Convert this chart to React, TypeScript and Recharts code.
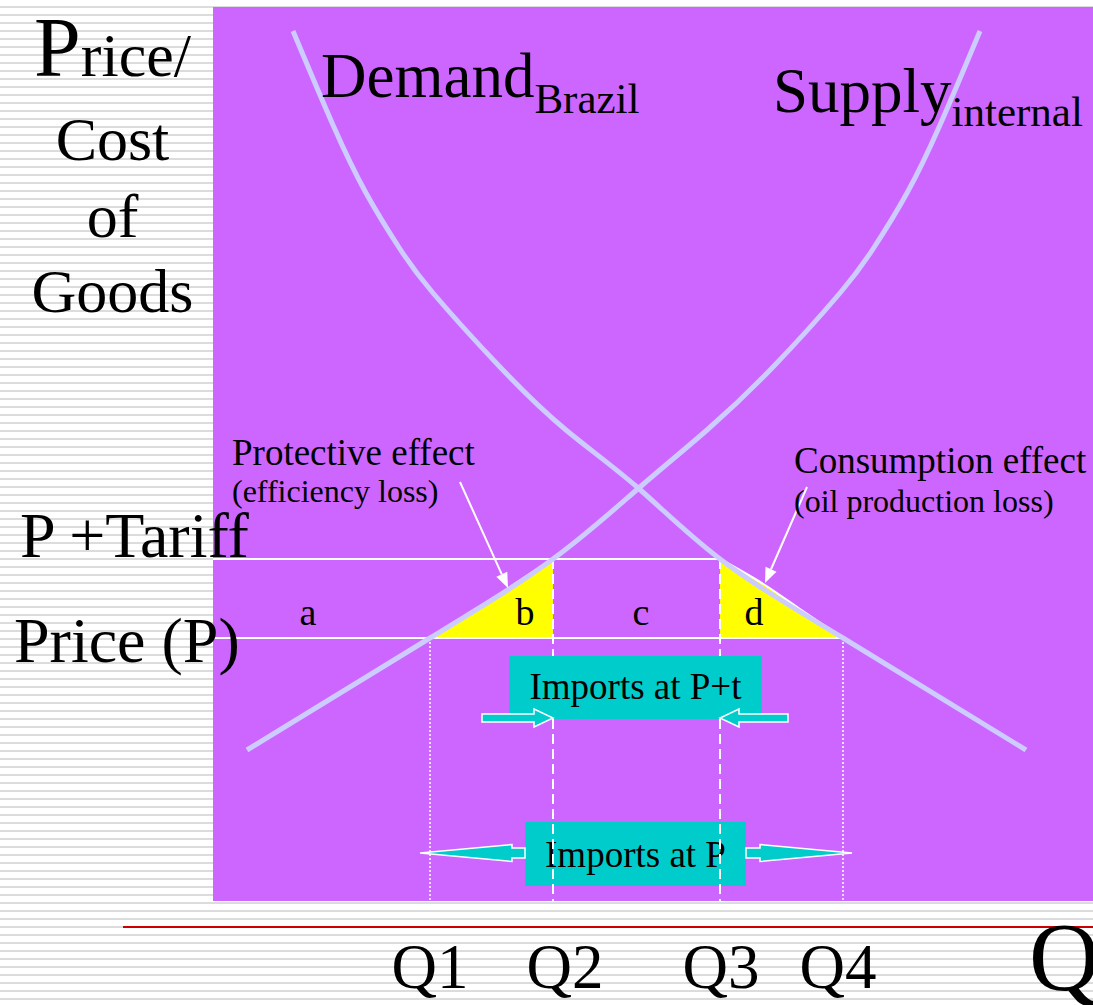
import React from 'react'
import {
    ComposedChart,
    Line,
    Area,
    XAxis,
    YAxis,
    CartesianGrid,
    ReferenceLine,
    ReferenceArea,
    ReferenceDot,
} from 'recharts'

const FONT = "'Liberation Serif', 'Times New Roman', Times, serif"

// quantity marks on the x axis
const Q_LABELS = ['Q1', 'Q2', 'Q3', 'Q4']
const Q_VALUES = [21.7, 34.0, 50.7, 63.0]

// price levels
const PRICE = 26.3
const PRICE_TARIFF = 34.2
const PRICE_LABELS = ['Price (P)', 'P +Tariff']

// internal supply curve
const SUPPLY_Q = [3.4, 21.7, 34.0, 42.7, 49.4, 56.0, 62.7, 66.0, 69.4, 72.7, 76.7]
const SUPPLY_P = [15.1, 26.3, 34.2, 41.4, 47.1, 53.4, 60.8, 65.2, 70.8, 77.6, 87.0]

// Brazil demand curve
const DEMAND_Q = [8.0, 12.0, 15.3, 18.7, 22.0, 28.7, 35.3, 42.4, 50.7, 63.0, 81.3]
const DEMAND_P = [87.0, 77.6, 70.8, 65.2, 60.8, 53.4, 47.1, 41.4, 34.2, 26.3, 15.1]

// deadweight loss triangles b and d
const LOSS_B_Q = [21.7, 25.4, 29.7, 34.0]
const LOSS_B_P = [26.3, 28.4, 31.4, 34.2]
const LOSS_D_Q = [50.7, 55.2, 58.7, 63.0]
const LOSS_D_P = [34.2, 31.6, 29.2, 26.3]

// area letters
const LETTERS = ['a', 'b', 'c', 'd']
const LETTER_Q = [9.5, 31.2, 42.8, 54.1]
const LETTER_P = 27.6

// "Imports at P+t" box (price band) - dashed guides stop at it
const BOX_T_LOW = 18.2
const BOX_T_HIGH = 24.5

const supplyData = SUPPLY_Q.map((q, i) => ({ q, p: SUPPLY_P[i] }))
const demandData = DEMAND_Q.map((q, i) => ({ q, p: DEMAND_P[i] }))
const lossB = LOSS_B_Q.map((q, i) => ({ q, p: LOSS_B_P[i] }))
const lossD = LOSS_D_Q.map((q, i) => ({ q, p: LOSS_D_P[i] }))

const Q_NUDGE = [0, 12, 1, -5]

const QTick = ({ x, y, payload }: any) => {
    const i = Q_VALUES.indexOf(payload.value)
    return (
        <text x={x + Q_NUDGE[i]} y={y + 87} textAnchor="middle" fontFamily={FONT} fontSize={63} fill="#000">
            {Q_LABELS[i]}
        </text>
    )
}

const PriceTick = ({ x, y, payload }: any) => {
    const isTariff = payload.value === PRICE_TARIFF
    return (
        <text
            x={isTariff ? x - 193 : x - 199}
            y={isTariff ? y - 2 : y + 24}
            fontFamily={FONT}
            fontSize={64}
            fill="#000"
        >
            {isTariff ? PRICE_LABELS[1] : PRICE_LABELS[0]}
        </text>
    )
}

const PriceTitle = (props: any) => {
    const vb = props.viewBox
    const cx = vb.x + vb.width / 2 + 6
    return (
        <g fontFamily={FONT} fill="#000" textAnchor="middle">
            <text x={cx} y={vb.y + 69}>
                <tspan fontSize={84}>P</tspan>
                <tspan fontSize={62}>rice/</tspan>
            </text>
            <text x={cx} y={vb.y + 153} fontSize={62}>Cost</text>
            <text x={cx} y={vb.y + 230} fontSize={62}>of</text>
            <text x={cx} y={vb.y + 305} fontSize={62}>Goods</text>
        </g>
    )
}

const QTitle = (props: any) => {
    const vb = props.viewBox
    return (
        <text x={vb.x + vb.width - 64} y={vb.y + 89} fontFamily={FONT} fontSize={98} fill="#000">
            Q
        </text>
    )
}

const curveTitle = (main: string, sub: string, subDy: number) => (p: any) => (
    <text x={p.cx} y={p.cy} fontFamily={FONT} fill="#000">
        <tspan fontSize={63}>{main}</tspan>
        <tspan fontSize={43} dy={subDy}>{sub}</tspan>
    </text>
)

const note = (text: string, size: number, anchor: string = 'start') => (p: any) => (
    <text x={p.cx} y={p.cy} fontFamily={FONT} fontSize={size} fill="#000" textAnchor={anchor}>
        {text}
    </text>
)

const pointer = (p: any) => {
    const { x1, y1, x2, y2 } = p
    const ang = Math.atan2(y2 - y1, x2 - x1)
    const bx = x2 - 15 * Math.cos(ang)
    const by = y2 - 15 * Math.sin(ang)
    const nx = -Math.sin(ang) * 6
    const ny = Math.cos(ang) * 6
    return (
        <g>
            <line x1={x1} y1={y1} x2={bx} y2={by} stroke="#fff" strokeWidth={2} />
            <polygon points={`${x2},${y2} ${bx + nx},${by + ny} ${bx - nx},${by - ny}`} fill="#fff" />
        </g>
    )
}

const blockArrow = (hs: number, hh: number, hl: number) => (p: any) => {
    const { x1, y1, x2 } = p
    const d = Math.sign(x2 - x1)
    const hx = x2 - d * hl
    const pts = [
        [x1, y1 - hs], [hx, y1 - hs], [hx, y1 - hh], [x2, y1],
        [hx, y1 + hh], [hx, y1 + hs], [x1, y1 + hs],
    ]
    return <polygon points={pts.map((v) => v.join(',')).join(' ')} fill="#00CCCC" stroke="#fff" strokeWidth={1.5} />
}

const boxLabel = (text: string, dy: number) => (props: any) => {
    const vb = props.viewBox
    return (
        <text x={vb.x + vb.width / 2} y={vb.y + vb.height / 2 + dy} textAnchor="middle" fontFamily={FONT} fontSize={37} fill="#000">
            {text}
        </text>
    )
}

export default function App() {
    return (
        <div
            style={{
                position: 'absolute',
                left: 0,
                top: 0,
                width: 1093,
                height: 1005,
                overflow: 'hidden',
                background: 'repeating-linear-gradient(to bottom, #ffffff 0px, #ffffff 6px, #dcdcdc 6px, #dcdcdc 8px)',
            }}
        >
            <div style={{ position: 'absolute', left: 123, top: 926, width: 970, height: 1.5, background: '#cc0000' }} />
            <ComposedChart width={1093} height={1005} margin={{ top: 7, right: 0, bottom: 0, left: 0 }}>
                <CartesianGrid horizontal={false} vertical={false} fill="#CC66FF" fillOpacity={1} />
                <XAxis
                    type="number"
                    dataKey="q"
                    domain={[0, 88]}
                    ticks={Q_VALUES}
                    interval={0}
                    tick={<QTick />}
                    tickSize={0}
                    tickMargin={0}
                    axisLine={false}
                    tickLine={false}
                    height={104}
                    label={QTitle}
                />
                <YAxis
                    type="number"
                    domain={[0, 89.4]}
                    ticks={[PRICE, PRICE_TARIFF]}
                    interval={0}
                    tick={<PriceTick />}
                    tickSize={0}
                    tickMargin={0}
                    axisLine={false}
                    tickLine={false}
                    width={213}
                    label={PriceTitle}
                />

                <ReferenceArea x1={31.2} x2={53.3} y1={1.5} y2={7.9} fill="#00CCCC" fillOpacity={1} stroke="none" label={boxLabel('Imports at P', 13)} />
                <ReferenceArea x1={29.6} x2={54.9} y1={BOX_T_LOW} y2={BOX_T_HIGH} fill="#00CCCC" fillOpacity={1} stroke="none" label={boxLabel('Imports at P+t', 11)} />

                <Area data={lossB} dataKey="p" type="monotone" baseValue={PRICE} fill="#FFFF00" fillOpacity={1} stroke="#fff" strokeWidth={2} isAnimationActive={false} />
                <Area data={lossD} dataKey="p" type="monotone" baseValue={PRICE} fill="#FFFF00" fillOpacity={1} stroke="#fff" strokeWidth={2} isAnimationActive={false} />

                <ReferenceLine segment={[{ x: 0, y: PRICE_TARIFF }, { x: Q_VALUES[2], y: PRICE_TARIFF }]} stroke="#fff" strokeWidth={2} />
                <ReferenceLine segment={[{ x: 0, y: PRICE }, { x: Q_VALUES[3], y: PRICE }]} stroke="#fff" strokeWidth={2} />
                <ReferenceLine segment={[{ x: Q_VALUES[0], y: PRICE }, { x: Q_VALUES[0], y: 0 }]} stroke="#fff" strokeWidth={1.5} strokeDasharray="2 2" />
                <ReferenceLine segment={[{ x: Q_VALUES[3], y: PRICE }, { x: Q_VALUES[3], y: 0 }]} stroke="#fff" strokeWidth={1.5} strokeDasharray="2 2" />
                {[Q_VALUES[1], Q_VALUES[2]].map((q) => (
                    <ReferenceLine key={`hi-${q}`} segment={[{ x: q, y: PRICE_TARIFF }, { x: q, y: BOX_T_HIGH }]} stroke="#fff" strokeWidth={2} strokeDasharray="10 5" />
                ))}
                {[Q_VALUES[1], Q_VALUES[2]].map((q) => (
                    <ReferenceLine key={`lo-${q}`} segment={[{ x: q, y: BOX_T_LOW }, { x: q, y: 0 }]} stroke="#fff" strokeWidth={2} strokeDasharray="10 5" />
                ))}

                <Line data={supplyData} dataKey="p" type="natural" stroke="#CCCCFF" strokeWidth={5} dot={false} activeDot={false} isAnimationActive={false} />
                <Line data={demandData} dataKey="p" type="natural" stroke="#CCCCFF" strokeWidth={5} dot={false} activeDot={false} isAnimationActive={false} />

                {/* import arrows */}
                <ReferenceLine segment={[{ x: 26.9, y: 18.3 }, { x: Q_VALUES[1], y: 18.3 }]} shape={blockArrow(4, 9, 19)} />
                <ReferenceLine segment={[{ x: 57.5, y: 18.3 }, { x: Q_VALUES[2], y: 18.3 }]} shape={blockArrow(4, 9, 19)} />
                <ReferenceLine segment={[{ x: 31.2, y: 4.8 }, { x: 20.7, y: 4.8 }]} shape={blockArrow(5, 8.5, 92)} />
                <ReferenceLine segment={[{ x: 53.3, y: 4.8 }, { x: 63.9, y: 4.8 }]} shape={blockArrow(5, 8.5, 92)} />

                {/* effect pointers */}
                <ReferenceLine segment={[{ x: 24.7, y: 41.9 }, { x: 29.5, y: 31.3 }]} shape={pointer} />
                <ReferenceLine segment={[{ x: 59.4, y: 41.4 }, { x: 55.2, y: 31.8 }]} shape={pointer} />

                <ReferenceDot x={10.8} y={80.4} shape={curveTitle('Demand', 'Brazil', 16)} />
                <ReferenceDot x={56.0} y={78.9} shape={curveTitle('Supply', 'internal', 14)} />
                <ReferenceDot x={1.9} y={43.6} shape={note('Protective effect', 37)} />
                <ReferenceDot x={1.9} y={39.9} shape={note('(efficiency loss)', 32)} />
                <ReferenceDot x={58.1} y={42.8} shape={note('Consumption effect', 37)} />
                <ReferenceDot x={58.1} y={38.9} shape={note('(oil production loss)', 32)} />
                {LETTERS.map((l, i) => (
                    <ReferenceDot key={l} x={LETTER_Q[i]} y={LETTER_P} shape={note(l, 38, 'middle')} />
                ))}
            </ComposedChart>
        </div>
    )
}
